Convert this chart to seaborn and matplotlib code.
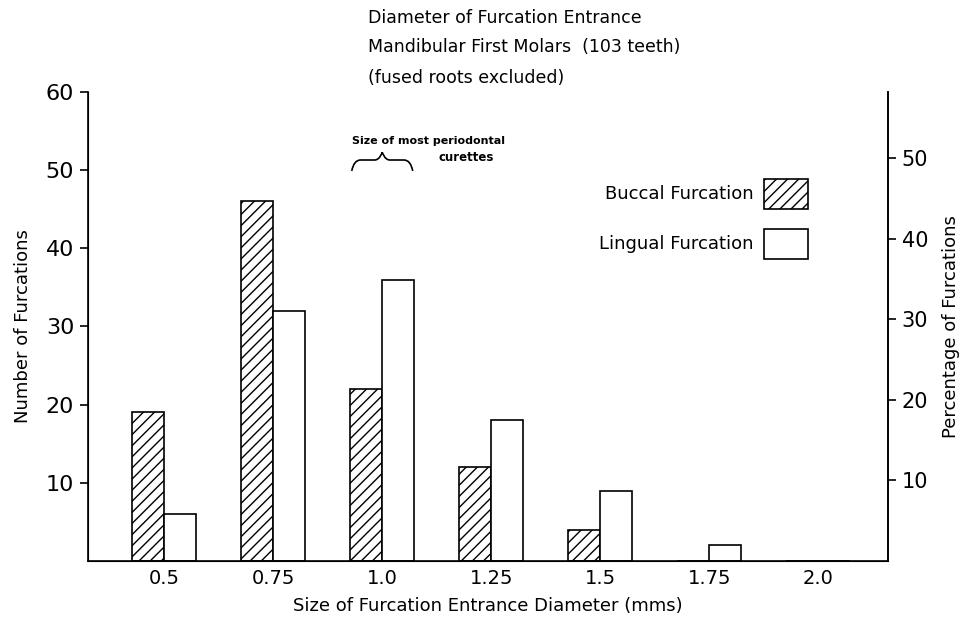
import pandas as pd
import matplotlib.pyplot as plt
import seaborn as sns
from matplotlib.patches import Patch, PathPatch
from matplotlib.path import Path

# Data (number of furcations, 103 teeth)
sizes = ['0.5', '0.75', '1.0', '1.25', '1.5', '1.75', '2.0']
buccal = [19, 46, 22, 12, 4, 0, 0]
lingual = [6, 32, 36, 18, 9, 2, 0]
n_teeth = 103

df = pd.DataFrame({
    'size': sizes * 2,
    'count': buccal + lingual,
    'side': ['Buccal Furcation'] * len(sizes) + ['Lingual Furcation'] * len(sizes),
})

sns.set_style('ticks', rc={'text.color': 'black', 'axes.labelcolor': 'black',
                           'xtick.color': 'black', 'ytick.color': 'black',
                           'axes.edgecolor': 'black'})
plt.rcParams['font.family'] = ['DejaVu Sans']
plt.rcParams['hatch.linewidth'] = 1.0

fig = plt.figure(figsize=(9.63, 6.28), dpi=100)
ax = fig.add_axes([0.0914, 0.1067, 0.8306, 0.7468])

sns.barplot(data=df, x='size', y='count', hue='side', ax=ax,
            palette=['white', 'white'], edgecolor='black', linewidth=1.2,
            width=0.59, gap=0, legend=False)
for bar in ax.containers[0]:
    bar.set_hatch('///')

ax.set_xlim(-0.70, 6.64)
ax.set_ylim(0, 60)
ax.set_yticks([10, 20, 30, 40, 50, 60])
ax.set_yticklabels(['10', '20', '30', '40', '50', '60'], fontsize=16)
ax.tick_params(axis='y', length=6, width=1.2, pad=4)
ax.tick_params(axis='x', length=0, labelsize=14, pad=6)
ax.set_xlabel('Size of Furcation Entrance Diameter (mms)', fontsize=13, labelpad=6)
ax.set_ylabel('Number of Furcations', fontsize=13, labelpad=10)
for s in ['left', 'bottom', 'right']:
    ax.spines[s].set_linewidth(1.2)
ax.spines['top'].set_visible(False)

# right axis: percentage of the 103 teeth
ax2 = ax.twinx()
ax2.set_ylim(0, 60 / n_teeth * 100)
ax2.set_yticks([10, 20, 30, 40, 50])
ax2.set_yticklabels(['10', '20', '30', '40', '50'], fontsize=15)
ax2.tick_params(axis='y', length=6, width=1.2, pad=4)
ax2.set_ylabel('Percentage of Furcations', fontsize=13, labelpad=10)
ax2.spines['top'].set_visible(False)
ax2.spines['right'].set_linewidth(1.2)

# title block
fig.text(0.382, 0.972, 'Diameter of Furcation Entrance', fontsize=12.5, va='center')
fig.text(0.382, 0.925, 'Mandibular First Molars  (103 teeth)', fontsize=12.5, va='center')
fig.text(0.382, 0.876, '(fused roots excluded)', fontsize=12.5, va='center')

# curette annotation with brace
ax.text(1.72, 53.7, 'Size of most periodontal', fontsize=8, fontweight='bold', va='center')
ax.text(2.52, 51.6, 'curettes', fontsize=8.5, fontweight='bold', va='center')
brace = Path(
    [(1.72, 49.9), (1.74, 51.3), (1.80, 51.3), (1.93, 51.3),
     (1.98, 51.3), (2.0, 52.3), (2.0, 52.3),
     (2.0, 52.3), (2.02, 51.3), (2.07, 51.3),
     (2.20, 51.3), (2.26, 51.3), (2.28, 49.9)],
    [Path.MOVETO, Path.CURVE3, Path.CURVE3, Path.LINETO,
     Path.CURVE4, Path.CURVE4, Path.CURVE4,
     Path.CURVE4, Path.CURVE4, Path.CURVE4,
     Path.LINETO, Path.CURVE3, Path.CURVE3])
ax.add_patch(PathPatch(brace, facecolor='none', edgecolor='black', lw=1.2))

handles = [Patch(facecolor='white', edgecolor='black', hatch='///', lw=1.2, label='Buccal Furcation'),
           Patch(facecolor='white', edgecolor='black', lw=1.2, label='Lingual Furcation')]
ax.legend(handles=handles, markerfirst=False, frameon=False, fontsize=13,
          handlelength=2.4, handleheight=2.2, labelspacing=1.1, handletextpad=0.6,
          loc='upper right', bbox_to_anchor=(0.92, 0.85))

fig.savefig('out.png', dpi=100)
